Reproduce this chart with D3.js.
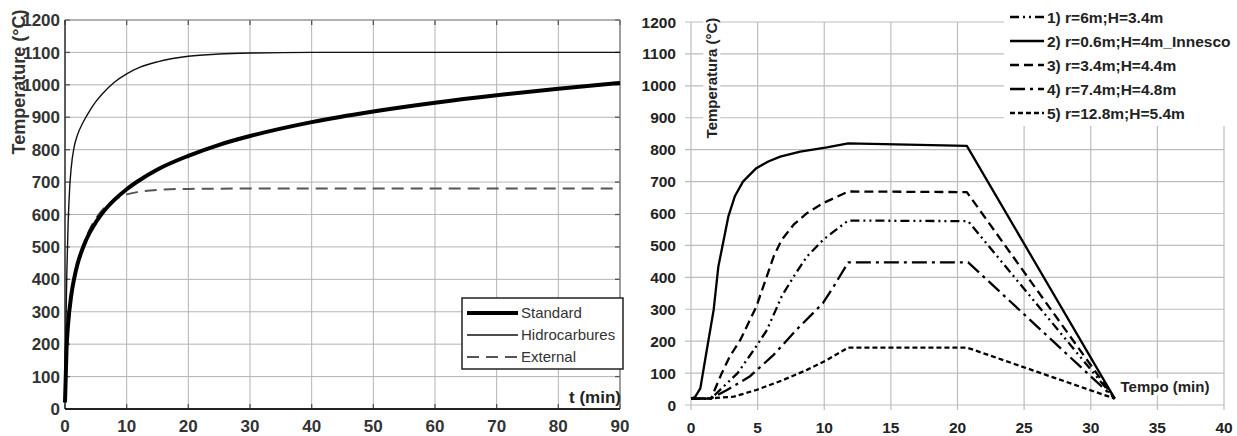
<!DOCTYPE html>
<html>
<head>
<meta charset="utf-8">
<script src="https://cdn.jsdelivr.net/npm/d3@7"></script>
<style>
  body { margin: 0; background: #fff; }
  svg { display: block; font-family: "Liberation Sans", Arial, sans-serif; }
</style>
</head>
<body>
<div id="chart"></div>
<script>
// ---- left chart: fire curves (t in min, T in °C)
var stdTime = [0, 0.25, 0.5, 1, 1.5, 2, 3, 4, 5, 6, 8, 10, 12, 15, 20, 25, 30, 40, 50, 60, 70, 80, 90];
var stdTemp = [20, 185, 261, 349, 404, 445, 502, 544, 576, 603, 645, 678, 705, 739, 781, 815, 842, 885, 918, 945, 968, 988, 1006];
var hcTime = [0, 0.1, 0.2, 0.3, 0.5, 0.75, 1, 1.5, 2, 3, 4, 5, 6, 8, 10, 12, 15, 20, 25, 30, 40, 50, 60, 70, 80, 90];
var hcTemp = [20, 187, 318, 422, 568, 679, 743, 810, 844, 887, 920, 948, 971, 1008, 1034, 1053, 1071, 1088, 1095, 1098, 1100, 1100, 1100, 1100, 1100, 1100];
var extTime = [0, 0.1, 0.25, 0.5, 1, 2, 3, 4, 5, 6, 8, 10, 12, 15, 20, 30, 40, 50, 60, 70, 80, 90];
var extTemp = [20, 100, 182, 263, 346, 441, 506, 554, 588, 613, 645, 662, 670, 676, 679, 680, 680, 680, 680, 680, 680, 680];
var leftXTicks = [0, 10, 20, 30, 40, 50, 60, 70, 80, 90];
var leftYTicks = [0, 100, 200, 300, 400, 500, 600, 700, 800, 900, 1000, 1100, 1200];
var leftLegend = ["Standard", "Hidrocarbures", "External"];

// ---- right chart: scenarios (Tempo in min, Temperatura in °C)
var s1Time = [0, 1.5, 2, 3, 3.5, 4.7, 5.7, 6.8, 7.7, 8.7, 9.9, 10.7, 11.8, 20.8, 31.8];
var s1Temp = [20, 20, 40, 80, 100, 172, 235, 340, 402, 465, 517, 543, 578, 576, 20];
var s2Time = [0, 0.3, 0.7, 1.1, 1.7, 2.05, 2.8, 3.3, 3.9, 4.9, 5.8, 6.7, 8.2, 10.2, 11.8, 20.7, 31.8];
var s2Temp = [20, 25, 52, 151, 298, 433, 590, 655, 700, 742, 763, 778, 794, 807, 820, 812, 20];
var s3Time = [0, 1.5, 2.3, 2.9, 3.7, 4.9, 6.2, 6.8, 7.7, 8.7, 9.9, 11.8, 20.7, 31.8];
var s3Temp = [20, 20, 99, 151, 204, 308, 465, 517, 565, 601, 632, 669, 667, 20];
var s4Time = [0, 1.5, 2.7, 4.4, 6.2, 7.9, 9.9, 10.7, 11.8, 20.8, 31.8];
var s4Temp = [20, 20, 47, 89, 157, 235, 319, 371, 447, 447, 20];
var s5Time = [0, 1.5, 3.2, 4.9, 6.9, 8.7, 10.2, 11.8, 20.7, 31.8];
var s5Temp = [20, 21, 26, 47, 78, 110, 141, 180, 180, 20];
var rightXTicks = [0, 5, 10, 15, 20, 25, 30, 35, 40];
var rightYTicks = [0, 100, 200, 300, 400, 500, 600, 700, 800, 900, 1000, 1100, 1200];
var rightLegend = ["1) r=6m;H=3.4m", "2) r=0.6m;H=4m_Innesco", "3) r=3.4m;H=4.4m", "4) r=7.4m;H=4.8m", "5) r=12.8m;H=5.4m"];

var zip = function(xs, ys) {
  return xs.map(function(x, i) { return [x, ys[i]]; });
};

var svg = d3.select("#chart").append("svg")
  .attr("width", 1237)
  .attr("height", 436);

// ================= LEFT =================
var lx = d3.scaleLinear().domain([0, 90]).range([65, 620]);
var ly = d3.scaleLinear().domain([0, 1200]).range([409, 20]);
var left = svg.append("g");

left.append("g").selectAll("line").data(leftXTicks).enter().append("line")
  .attr("x1", function(d) { return lx(d); }).attr("x2", function(d) { return lx(d); })
  .attr("y1", ly(0)).attr("y2", ly(1200))
  .style("stroke", "#b4b4b4").style("stroke-width", 1);
left.append("g").selectAll("line").data(leftYTicks).enter().append("line")
  .attr("x1", lx(0)).attr("x2", lx(90))
  .attr("y1", function(d) { return ly(d); }).attr("y2", function(d) { return ly(d); })
  .style("stroke", "#b4b4b4").style("stroke-width", 1);

// inward ticks on all sides
var tk = left.append("g").style("stroke", "#555").style("stroke-width", 1.3);
leftXTicks.forEach(function(d) {
  tk.append("line").attr("x1", lx(d)).attr("x2", lx(d)).attr("y1", ly(0)).attr("y2", ly(0) - 5);
  tk.append("line").attr("x1", lx(d)).attr("x2", lx(d)).attr("y1", ly(1200)).attr("y2", ly(1200) + 5);
});
leftYTicks.forEach(function(d) {
  tk.append("line").attr("x1", lx(0)).attr("x2", lx(0) + 5).attr("y1", ly(d)).attr("y2", ly(d));
  tk.append("line").attr("x1", lx(90)).attr("x2", lx(90) - 5).attr("y1", ly(d)).attr("y2", ly(d));
});

left.append("line").attr("x1", lx(0)).attr("x2", lx(90)).attr("y1", ly(1200)).attr("y2", ly(1200))
  .style("stroke", "#888").style("stroke-width", 1.2);
left.append("line").attr("x1", lx(90)).attr("x2", lx(90)).attr("y1", ly(1200)).attr("y2", ly(0))
  .style("stroke", "#777").style("stroke-width", 1.2);
left.append("line").attr("x1", lx(0)).attr("x2", lx(0)).attr("y1", ly(1200)).attr("y2", ly(0))
  .style("stroke", "#333").style("stroke-width", 1.5);
left.append("line").attr("x1", lx(0)).attr("x2", lx(90)).attr("y1", ly(0)).attr("y2", ly(0))
  .style("stroke", "#222").style("stroke-width", 2);

var lline = d3.line()
  .x(function(d) { return lx(d[0]); })
  .y(function(d) { return ly(d[1]); })
  .curve(d3.curveMonotoneX);

left.append("path").datum(zip(extTime, extTemp)).attr("d", lline)
  .style("fill", "none").style("stroke", "#555").style("stroke-width", 2).style("stroke-dasharray", "12,7");
left.append("path").datum(zip(hcTime, hcTemp)).attr("d", lline)
  .style("fill", "none").style("stroke", "#111").style("stroke-width", 1.4);
left.append("path").datum(zip(stdTime, stdTemp)).attr("d", lline)
  .style("fill", "none").style("stroke", "#000").style("stroke-width", 4);

left.append("g").selectAll("text").data(leftYTicks).enter().append("text")
  .attr("x", 60).attr("y", function(d) { return ly(d); }).attr("dy", "0.36em")
  .attr("text-anchor", "end")
  .style("font-size", "17px").style("font-weight", "bold").style("fill", "#333")
  .text(function(d) { return d; });
left.append("g").selectAll("text").data(leftXTicks).enter().append("text")
  .attr("x", function(d) { return lx(d); }).attr("y", 432)
  .attr("text-anchor", "middle")
  .style("font-size", "17px").style("font-weight", "bold").style("fill", "#333")
  .text(function(d) { return d; });

left.append("text")
  .attr("transform", "translate(25,82) rotate(-90)")
  .attr("text-anchor", "middle")
  .style("font-size", "18px").style("font-weight", "bold").style("fill", "#333")
  .text("Temperature (°C)");

left.append("text")
  .attr("x", 621).attr("y", 403).attr("text-anchor", "end")
  .style("font-size", "17px").style("font-weight", "bold").style("fill", "#222")
  .text("t (min)");

// legend
var lg = left.append("g");
lg.append("rect").attr("x", 462).attr("y", 298).attr("width", 161).attr("height", 71)
  .style("fill", "#fff").style("stroke", "#222").style("stroke-width", 1.5);
var lgStyles = [
  { stroke: "#000", width: 4, dash: null },
  { stroke: "#111", width: 1.4, dash: null },
  { stroke: "#555", width: 2, dash: "12,7" }
];
leftLegend.forEach(function(name, i) {
  var yy = 313 + i * 22;
  lg.append("line").attr("x1", 467).attr("x2", 518).attr("y1", yy).attr("y2", yy)
    .style("stroke", lgStyles[i].stroke).style("stroke-width", lgStyles[i].width)
    .style("stroke-dasharray", lgStyles[i].dash);
  lg.append("text").attr("x", 521).attr("y", yy).attr("dy", "0.36em")
    .style("font-size", "15px").style("fill", "#333")
    .text(name);
});

// ================= RIGHT =================
var rx = d3.scaleLinear().domain([0, 40]).range([691, 1224]);
var ry = d3.scaleLinear().domain([0, 1200]).range([405, 22]);
var right = svg.append("g");

right.append("g").selectAll("line").data(rightXTicks).enter().append("line")
  .attr("x1", function(d) { return rx(d); }).attr("x2", function(d) { return rx(d); })
  .attr("y1", ry(0) + 5).attr("y2", ry(1200))
  .style("stroke", "#bdbdbd").style("stroke-width", 1.2);
right.append("g").selectAll("line").data(rightYTicks).enter().append("line")
  .attr("x1", rx(0) - 6).attr("x2", rx(40))
  .attr("y1", function(d) { return ry(d); }).attr("y2", function(d) { return ry(d); })
  .style("stroke", "#bdbdbd").style("stroke-width", 1.2);

var rline = d3.line()
  .x(function(d) { return rx(d[0]); })
  .y(function(d) { return ry(d[1]); });

var rStyles = [
  { dash: "9,4,2,4,2,4" },
  { dash: null },
  { dash: "9,5" },
  { dash: "15,5,3,5" },
  { dash: "5,3" }
];
var rSeries = [zip(s1Time, s1Temp), zip(s2Time, s2Temp), zip(s3Time, s3Temp), zip(s4Time, s4Temp), zip(s5Time, s5Temp)];
rSeries.forEach(function(s, i) {
  right.append("path").datum(s).attr("d", rline)
    .style("fill", "none").style("stroke", "#000").style("stroke-width", 2.3)
    .style("stroke-linejoin", "round")
    .style("stroke-dasharray", rStyles[i].dash);
});

right.append("g").selectAll("text").data(rightYTicks).enter().append("text")
  .attr("x", 676).attr("y", function(d) { return ry(d); }).attr("dy", "0.36em")
  .attr("text-anchor", "end")
  .style("font-size", "15.5px").style("font-weight", "bold").style("fill", "#222")
  .text(function(d) { return d; });
right.append("g").selectAll("text").data(rightXTicks).enter().append("text")
  .attr("x", function(d) { return rx(d); }).attr("y", 433)
  .attr("text-anchor", "middle")
  .style("font-size", "15.5px").style("font-weight", "bold").style("fill", "#222")
  .text(function(d) { return d; });

// labels sitting on white boxes
function boxedText(g, attrs, txt) {
  var t = g.append("text")
    .attr("transform", attrs.transform)
    .attr("text-anchor", "middle").attr("dy", "0.35em")
    .style("font-size", attrs.size).style("font-weight", "bold").style("fill", "#222")
    .text(txt);
  var b = t.node().getBBox();
  g.insert("rect", function() { return t.node(); })
    .attr("transform", attrs.transform)
    .attr("x", b.x - 2).attr("y", b.y).attr("width", b.width + 4).attr("height", b.height)
    .style("fill", "#fff");
}
boxedText(right, { transform: "translate(712,78) rotate(-90)", size: "15px" }, "Temperatura (°C)");
boxedText(right, { transform: "translate(1165,387)", size: "15px" }, "Tempo (min)");

// legend
var rg = right.append("g");
rg.append("rect").attr("x", 1004).attr("y", 0).attr("width", 233).attr("height", 126)
  .style("fill", "#fff");
rightLegend.forEach(function(name, i) {
  var yy = 17 + i * 24;
  rg.append("line").attr("x1", 1010).attr("x2", 1044).attr("y1", yy).attr("y2", yy)
    .style("stroke", "#000").style("stroke-width", 2.3)
    .style("stroke-dasharray", rStyles[i].dash);
  rg.append("text").attr("x", 1047).attr("y", yy).attr("dy", "0.36em")
    .style("font-size", "15.5px").style("font-weight", "bold").style("fill", "#222")
    .text(name);
});
</script>
</body>
</html>
